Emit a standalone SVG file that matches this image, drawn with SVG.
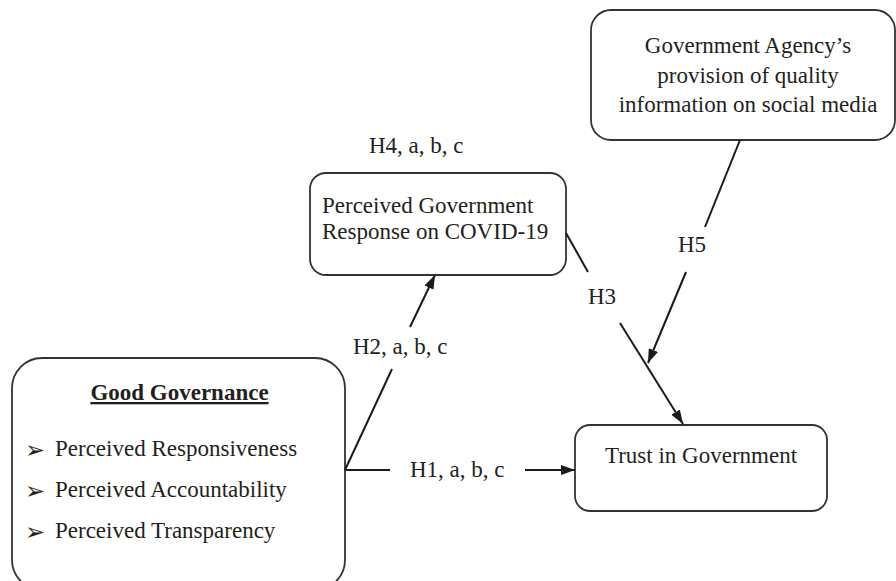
<svg xmlns="http://www.w3.org/2000/svg" width="896" height="581" viewBox="0 0 896 581">
<style>
.box{fill:#fff;stroke:#333;stroke-width:1.8}
.t{font-family:"Liberation Serif","Times New Roman",serif;font-size:23px;fill:#231f20}
.c{stroke:#1a1a1a;stroke-width:2;fill:none}
.b{font-family:"DejaVu Sans",sans-serif;font-size:24px;fill:#231f20}
</style>
<defs>
<marker id="ah" viewBox="0 0 14 10" refX="14" refY="5" markerWidth="14" markerHeight="10" markerUnits="userSpaceOnUse" orient="auto">
<path d="M0,0 L14,5 L0,10 Z" fill="#1a1a1a"/>
</marker>
</defs>
<rect width="896" height="581" fill="#fff"/>
<g id="agency">
<rect class="box" x="591" y="10" width="304" height="130" rx="20"/>
<text class="t" x="748" y="53" text-anchor="middle">Government Agency’s</text>
<text class="t" x="748" y="82.5" text-anchor="middle">provision of quality</text>
<text class="t" x="748" y="112" text-anchor="middle">information on social media</text>
</g>
<g id="response">
<rect class="box" x="310" y="173" width="256" height="102" rx="16"/>
<text class="t" x="322" y="213">Perceived Government</text>
<text class="t" x="322" y="239">Response on COVID-19</text>
</g>
<g id="governance">
<rect class="box" x="12" y="358" width="333" height="232" rx="30"/>
<text class="t" x="179.5" y="400" text-anchor="middle" font-weight="bold" text-decoration="underline">Good Governance</text>
<text class="b" x="25" y="458">➢</text>
<text class="t" x="55" y="456">Perceived Responsiveness</text>
<text class="b" x="25" y="499">➢</text>
<text class="t" x="55" y="497">Perceived Accountability</text>
<text class="b" x="25" y="540">➢</text>
<text class="t" x="55" y="538">Perceived Transparency</text>
</g>
<g id="trust">
<rect class="box" x="575" y="425" width="252" height="86" rx="15"/>
<text class="t" x="701" y="463" text-anchor="middle">Trust in Government</text>
</g>
<g id="connectors">
<line class="c" x1="345" y1="470" x2="390" y2="470"/>
<line class="c" x1="525" y1="470" x2="575" y2="470" marker-end="url(#ah)"/>
<line class="c" x1="345" y1="470" x2="392" y2="369"/>
<line class="c" x1="410" y1="327" x2="435" y2="275" marker-end="url(#ah)"/>
<line class="c" x1="566" y1="233" x2="588" y2="272"/>
<line class="c" x1="620" y1="323" x2="683" y2="424" marker-end="url(#ah)"/>
<line class="c" x1="740" y1="140" x2="705" y2="227"/>
<line class="c" x1="686" y1="272" x2="648" y2="363" marker-end="url(#ah)"/>
<text class="t" x="410" y="477">H1, a, b, c</text>
<text class="t" x="353" y="354">H2, a, b, c</text>
<text class="t" x="588" y="304">H3</text>
<text class="t" x="369" y="153">H4, a, b, c</text>
<text class="t" x="678" y="252">H5</text>
</g>
</svg>
